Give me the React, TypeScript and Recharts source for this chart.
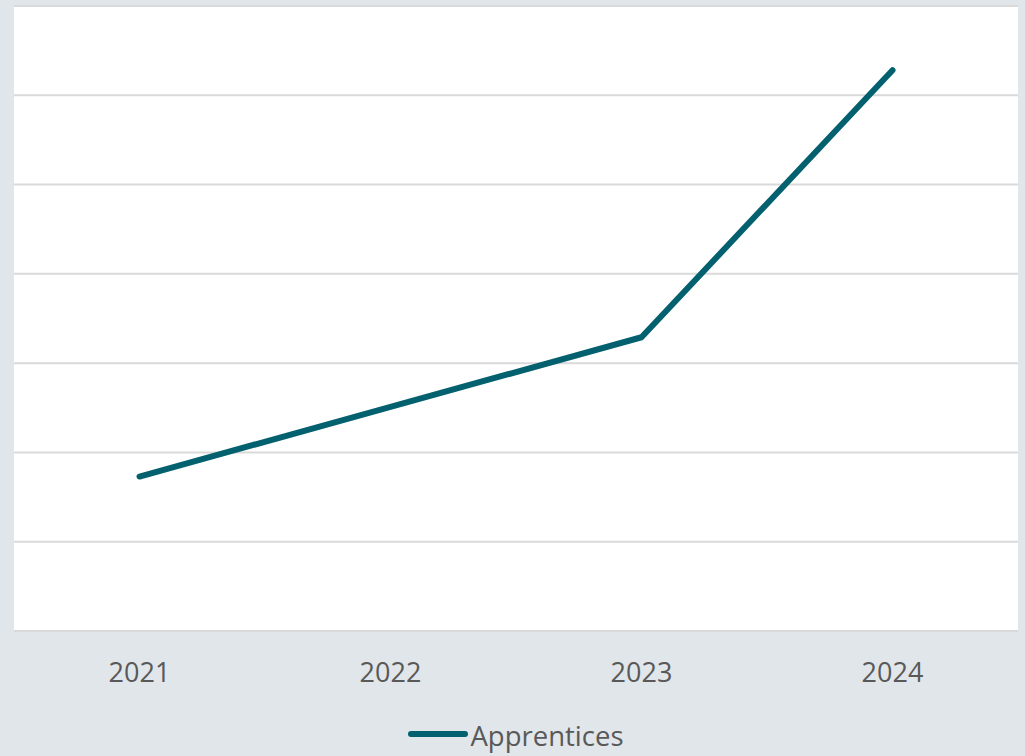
import React from 'react';
import { LineChart, Line, XAxis, YAxis, CartesianGrid, Legend, ReferenceLine } from 'recharts';

const years = ['2021', '2022', '2023', '2024'];
const apprentices = [1.73, 2.51, 3.29, 6.28];
const yTicks = [0, 1, 2, 3, 4, 5, 6, 7];

const data = years.map((year, i) => ({ year, apprentices: apprentices[i] }));

const LINE_COLOR = '#03606e';
const TEXT_COLOR = '#595959';
const GRID_COLOR = '#d9d9d9';
const FONT = '"Open Sans", "Noto Sans", sans-serif';

function YearTick({ x, y, payload }: any) {
  return (
    <text x={x} y={y + 51} textAnchor="middle" fill={TEXT_COLOR} fontSize={27} fontFamily={FONT}>
      {payload.value}
    </text>
  );
}

function LegendContent() {
  return (
    <div style={{ display: 'flex', justifyContent: 'center', alignItems: 'center', height: 45 }}>
      <svg width={60} height={12} style={{ marginRight: 2, marginLeft: 0 }}>
        <line x1={3} y1={6} x2={57} y2={6} stroke={LINE_COLOR} strokeWidth={6} strokeLinecap="round" />
      </svg>
      <span style={{ fontFamily: FONT, fontSize: 27.5, color: TEXT_COLOR, lineHeight: '45px', marginTop: 4 }}>
        Apprentices
      </span>
    </div>
  );
}

export default function App() {
  return (
    <div style={{ position: 'absolute', left: 0, top: 0, width: 1025, height: 756, background: '#e1e6ea' }}>
      <LineChart width={1025} height={756} data={data} margin={{ top: 6, right: 7, left: 14, bottom: 0 }}>
        <CartesianGrid vertical={false} horizontal={false} fill="#ffffff" fillOpacity={1} />
        <XAxis
          dataKey="year"
          axisLine={{ stroke: GRID_COLOR, strokeWidth: 2 }}
          tickLine={false}
          tickSize={0}
          tickMargin={0}
          height={80}
          padding={{ left: 125.5, right: 125.5 }}
          tick={<YearTick />}
        />
        <YAxis width={0} domain={[0, 7]} ticks={yTicks} axisLine={false} tickLine={false} tick={false} />
        {yTicks.map((t) => (
          <ReferenceLine key={t} y={t} stroke={GRID_COLOR} strokeWidth={2} />
        ))}
        <Legend verticalAlign="bottom" height={45} content={<LegendContent />} />
        <Line
          type="linear"
          dataKey="apprentices"
          stroke={LINE_COLOR}
          strokeWidth={6}
          strokeLinecap="round"
          strokeLinejoin="round"
          dot={false}
          isAnimationActive={false}
        />
      </LineChart>
    </div>
  );
}
